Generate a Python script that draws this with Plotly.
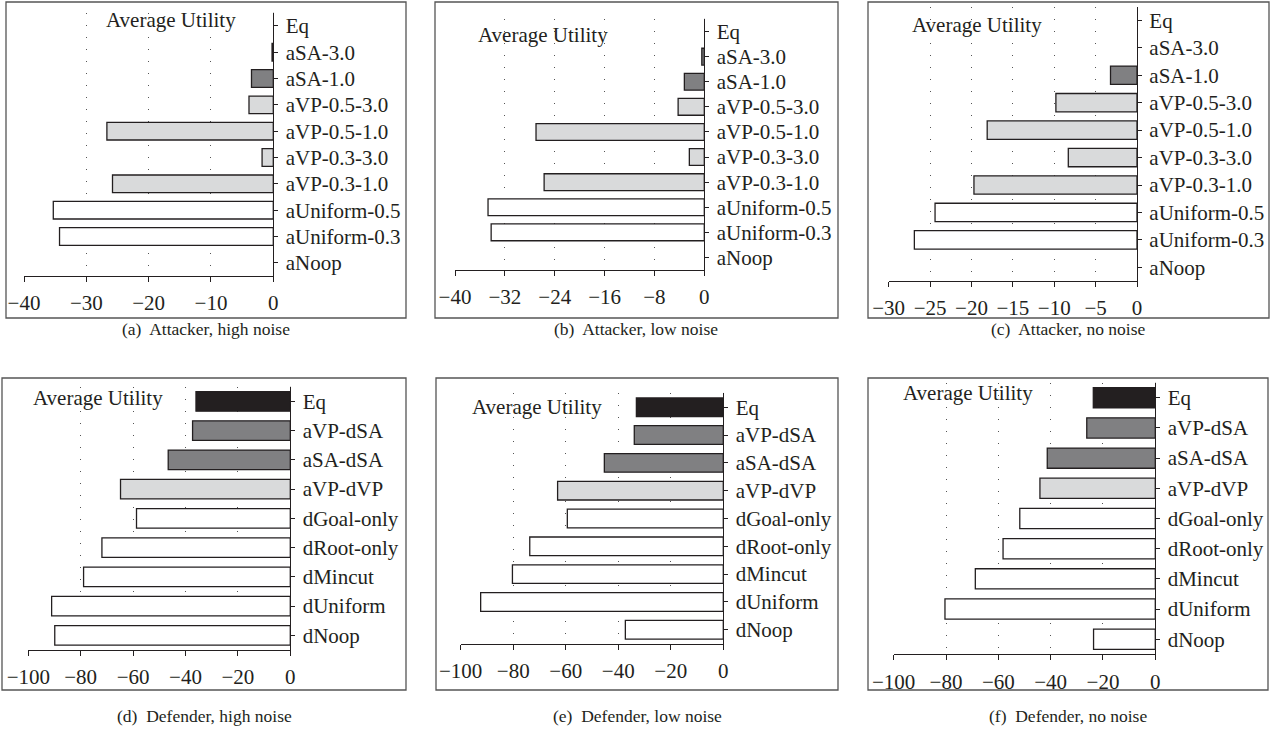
import plotly.graph_objects as go

# ---------------- data ----------------
att_cats = ["Eq", "aSA-3.0", "aSA-1.0", "aVP-0.5-3.0", "aVP-0.5-1.0",
            "aVP-0.3-3.0", "aVP-0.3-1.0", "aUniform-0.5", "aUniform-0.3", "aNoop"]
att_high = [None, -0.2, -3.5, -3.9, -26.7, -1.8, -25.8, -35.3, -34.3, None]
att_low = [None, -0.4, -3.2, -4.2, -27.0, -2.4, -25.7, -34.7, -34.2, None]
att_none = [None, None, -3.2, -9.8, -18.1, -8.3, -19.7, -24.4, -26.9, None]

def_cats = ["Eq", "aVP-dSA", "aSA-dSA", "aVP-dVP", "dGoal-only",
            "dRoot-only", "dMincut", "dUniform", "dNoop"]
def_high = [-36.0, -37.3, -46.6, -64.8, -58.7, -71.9, -78.9, -91.1, -89.9]
def_low = [-33.1, -33.9, -45.3, -63.1, -59.4, -73.7, -80.3, -92.4, -37.3]
def_none = [-23.7, -26.2, -41.3, -44.1, -51.8, -58.2, -68.8, -80.4, -23.6]

captions = ["(a)  Attacker, high noise", "(b)  Attacker, low noise", "(c)  Attacker, no noise",
            "(d)  Defender, high noise", "(e)  Defender, low noise", "(f)  Defender, no noise"]
ticks_a = [-40, -30, -20, -10, 0]
ticks_b = [-40, -32, -24, -16, -8, 0]
ticks_c = [-30, -25, -20, -15, -10, -5, 0]
ticks_d = [-100, -80, -60, -40, -20, 0]

# ---------------- styling ----------------
BLACK = "#231f20"
DARK = "#808082"
LIGHT = "#d9dadb"
WHITE = "#ffffff"
att_colors = [BLACK, DARK, DARK, LIGHT, LIGHT, LIGHT, LIGHT, WHITE, WHITE, WHITE]
def_colors = [BLACK, DARK, DARK, LIGHT, WHITE, WHITE, WHITE, WHITE, WHITE]

W, H = 1280, 733
FONT = "Liberation Serif"
FS = 21

panels = [
    # values, cats, colors, ticks, plot px (x0,x1,y0,y1), box px, title px, caption px
    (att_high, att_cats, att_colors, ticks_a, (24, 273.3, 12.7, 276), (6, 406, 2, 318), (171, 20), (206, 329)),
    (att_low, att_cats, att_colors, ticks_b, (455, 704.3, 19, 270), (435, 838, 2, 318), (543, 35), (636, 329)),
    (att_none, att_cats, att_colors, ticks_c, (888.7, 1137, 6.7, 281), (868, 1269, 2, 318), (977, 25), (1068, 329)),
    (def_high, def_cats, def_colors, ticks_d, (28.3, 290.3, 386.7, 650), (2, 406, 378, 690), (98, 398), (204, 716)),
    (def_low, def_cats, def_colors, ticks_d, (460.7, 723.3, 393.3, 643.7), (436, 838, 378, 690), (537, 406.7), (637, 716)),
    (def_none, def_cats, def_colors, ticks_d, (893.7, 1155.3, 382.7, 654.3), (868, 1268, 378, 690), (968, 393.3), (1068, 716)),
]

fig = go.Figure()
shapes = []
annotations = []

for i, (vals, cats, cols, ticks, plot, box, ttl, cap) in enumerate(panels):
    n = i + 1
    xa = "x" if n == 1 else f"x{n}"
    ya = "y" if n == 1 else f"y{n}"
    fig.add_trace(go.Bar(
        x=vals, y=cats, orientation="h", width=0.67,
        marker=dict(color=cols, line=dict(color=BLACK, width=1.3)),
        xaxis=xa, yaxis=ya, showlegend=False, hoverinfo="x+y",
    ))
    x0, x1, y0, y1 = plot
    xkey = "xaxis" if n == 1 else f"xaxis{n}"
    ykey = "yaxis" if n == 1 else f"yaxis{n}"
    fig.update_layout(**{
        xkey: dict(
            domain=[x0 / W, x1 / W], anchor=ya, range=[ticks[0], 0],
            tickmode="array", tickvals=ticks, automargin=False,
            showline=True, linecolor=BLACK, linewidth=1.3,
            ticks="outside", ticklen=5, tickwidth=1.3, tickcolor=BLACK,
            showgrid=True, gridcolor="#555555", gridwidth=1, griddash="1px,11px",
            zeroline=False, tickfont=dict(family=FONT, size=FS, color=BLACK),
            ticklabelstandoff=3, fixedrange=True,
        ),
        ykey: dict(
            domain=[1 - y1 / H, 1 - y0 / H], anchor=xa, side="right",
            type="category", categoryorder="array", categoryarray=cats,
            range=[len(cats) - 0.5, -0.5], automargin=False,
            showline=True, linecolor=BLACK, linewidth=1.3,
            ticks="outside", ticklen=4, tickwidth=1.3, tickcolor=BLACK,
            showgrid=False, zeroline=False,
            tickfont=dict(family=FONT, size=FS, color=BLACK),
            ticklabelstandoff=3, fixedrange=True,
        ),
    })
    # top end cap of the category axis
    shapes.append(dict(type="line", xref=xa, yref=f"{ya} domain",
                       xsizemode="pixel", xanchor=0, x0=0, x1=5, y0=1, y1=1,
                       line=dict(color=BLACK, width=1.3)))
    # panel frame
    bx0, bx1, by0, by1 = box
    shapes.append(dict(type="rect", xref="paper", yref="paper",
                       x0=bx0 / W, x1=bx1 / W, y0=1 - by1 / H, y1=1 - by0 / H,
                       line=dict(color="#555555", width=1.3), fillcolor="rgba(0,0,0,0)",
                       layer="below"))
    annotations.append(dict(text="Average Utility", xref="paper", yref="paper",
                            x=ttl[0] / W, y=1 - ttl[1] / H, xanchor="center", yanchor="middle",
                            showarrow=False, font=dict(family=FONT, size=FS, color=BLACK)))
    annotations.append(dict(text=captions[i], xref="paper", yref="paper",
                            x=cap[0] / W, y=1 - cap[1] / H, xanchor="center", yanchor="middle",
                            showarrow=False, font=dict(family=FONT, size=17.5, color=BLACK)))

fig.update_layout(
    template="none",
    width=W, height=H, margin=dict(l=0, r=0, t=0, b=0, autoexpand=False),
    paper_bgcolor="white", plot_bgcolor="white",
    shapes=shapes, annotations=annotations, bargap=0.33,
    font=dict(family=FONT, color=BLACK),
)

fig.write_html(
    "out.html",
    config={"displayModeBar": False},
    post_script="document.body.style.margin='0';document.body.style.overflow='hidden';",
)
